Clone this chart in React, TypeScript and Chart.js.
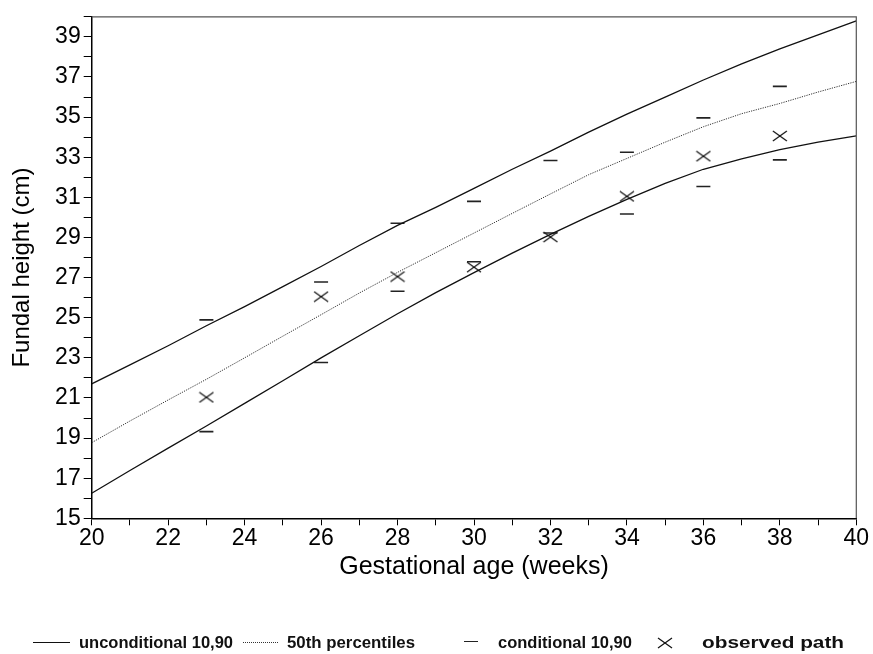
import React, { useEffect, useRef } from 'react';
import { Chart, registerables } from 'chart.js';

Chart.register(...registerables);

// ---- data ----
const weeks = [20, 21, 22, 23, 24, 25, 26, 27, 28, 29, 30, 31, 32, 33, 34, 35, 36, 37, 38, 39, 40];
const upper90 = [21.7, 22.65, 23.6, 24.6, 25.55, 26.55, 27.55, 28.6, 29.6, 30.5, 31.45, 32.4, 33.3, 34.25, 35.15, 36.0, 36.85, 37.65, 38.4, 39.1, 39.8];
const median50 = [18.77, 19.85, 20.9, 21.93, 23.0, 24.08, 25.15, 26.23, 27.26, 28.24, 29.22, 30.2, 31.17, 32.13, 32.94, 33.75, 34.52, 35.17, 35.68, 36.25, 36.78];
const lower10 = [16.25, 17.38, 18.5, 19.6, 20.73, 21.86, 23.0, 24.1, 25.2, 26.25, 27.25, 28.22, 29.15, 30.05, 30.9, 31.7, 32.4, 32.92, 33.38, 33.75, 34.06];

const visitWeeks = [23, 26, 28, 30, 32, 34, 36, 38];
const condUpper = [24.89, 26.78, 29.71, 30.8, 32.84, 33.25, 34.96, 36.53];
const condLower = [19.32, 22.77, 26.32, 27.79, 29.22, 30.17, 31.54, 32.87];
const observed = [21.03, 26.05, 27.05, 27.52, 29.02, 31.05, 33.05, 34.06];

const xTickLabels = [20, 22, 24, 26, 28, 30, 32, 34, 36, 38, 40];
const yTickLabels = [15, 17, 19, 21, 23, 25, 27, 29, 31, 33, 35, 37, 39];

const xTitle = 'Gestational age (weeks)';
const yTitle = 'Fundal height (cm)';
const legendLabels = ['unconditional 10,90', '50th percentiles', 'conditional 10,90', 'observed path'];

const FONT = '"Liberation Sans", Arial, Helvetica, sans-serif';

function makeCross(): HTMLCanvasElement {
  const c = document.createElement('canvas');
  c.width = 16;
  c.height = 12;
  const g = c.getContext('2d')!;
  g.strokeStyle = '#111';
  g.lineWidth = 1.2;
  g.beginPath();
  g.moveTo(1, 1);
  g.lineTo(15, 11);
  g.moveTo(1, 11);
  g.lineTo(15, 1);
  g.stroke();
  return c;
}

const framePlugin = {
  id: 'frame',
  afterDraw(chart: any) {
    const { ctx, chartArea } = chart;
    const { left, top, right, bottom } = chartArea;
    ctx.save();
    ctx.strokeStyle = '#555';
    ctx.lineWidth = 1.2;
    ctx.beginPath();
    ctx.moveTo(left, top);
    ctx.lineTo(right, top);
    ctx.lineTo(right, bottom);
    ctx.stroke();
    ctx.restore();
  },
};

function FitText({ left, width, text }: { left: number; width: number; text: string }) {
  const ref = useRef<HTMLSpanElement>(null);
  useEffect(() => {
    const el = ref.current;
    if (!el) return;
    el.style.transform = 'none';
    const w = el.getBoundingClientRect().width;
    if (w > 0) el.style.transform = `scaleX(${width / w})`;
  }, [width, text]);
  return (
    <span
      ref={ref}
      style={{
        position: 'absolute',
        left,
        top: 633,
        lineHeight: '20px',
        font: `bold 16.5px ${FONT}`,
        whiteSpace: 'nowrap',
        transformOrigin: 'left center',
        color: '#111',
      }}
    >
      {text}
    </span>
  );
}

export default function App() {
  const canvasRef = useRef<HTMLCanvasElement>(null);

  useEffect(() => {
    const canvas = canvasRef.current;
    if (!canvas) return;
    const cross = makeCross();
    const toPts = (xs: number[], ys: number[]) => xs.map((x, i) => ({ x, y: ys[i] }));

    const chart = new Chart(canvas, {
      type: 'scatter',
      data: {
        datasets: [
          {
            label: legendLabels[0],
            data: toPts(weeks, upper90),
            showLine: true,
            borderColor: '#111',
            borderWidth: 1.3,
            pointRadius: 0,
            tension: 0,
          },
          {
            label: legendLabels[1],
            data: toPts(weeks, median50),
            showLine: true,
            borderColor: '#333',
            borderWidth: 1,
            borderDash: [1.2, 1.2],
            pointRadius: 0,
            tension: 0,
          },
          {
            label: legendLabels[0],
            data: toPts(weeks, lower10),
            showLine: true,
            borderColor: '#111',
            borderWidth: 1.3,
            pointRadius: 0,
            tension: 0,
          },
          {
            label: legendLabels[2],
            data: toPts(visitWeeks, condUpper),
            showLine: false,
            pointStyle: 'line',
            pointRadius: 7,
            pointBorderWidth: 1.6,
            borderColor: '#222',
            backgroundColor: '#222',
          },
          {
            label: legendLabels[2],
            data: toPts(visitWeeks, condLower),
            showLine: false,
            pointStyle: 'line',
            pointRadius: 7,
            pointBorderWidth: 1.6,
            borderColor: '#222',
            backgroundColor: '#222',
          },
          {
            label: legendLabels[3],
            data: toPts(visitWeeks, observed),
            showLine: false,
            pointStyle: cross as any,
            pointRadius: 8,
          },
        ],
      },
      options: {
        animation: false,
        responsive: false,
        devicePixelRatio: 1,
        events: [],
        layout: { padding: { left: 0, right: 16.7, top: 6.9, bottom: 0 } },
        plugins: {
          legend: { display: false },
          tooltip: { enabled: false },
        },
        scales: {
          x: {
            type: 'linear',
            min: 20,
            max: 40,
            afterFit: (s: any) => {
              s.height = 654 - 518.3;
            },
            ticks: {
              stepSize: 1,
              autoSkip: false,
              maxRotation: 0,
              padding: 0,
              color: '#000',
              font: { family: FONT, size: 23 },
              callback: (v: any) => (xTickLabels.includes(Number(v)) ? String(v) : ''),
            },
            grid: { drawOnChartArea: false, drawTicks: true, tickLength: 7, color: '#000', lineWidth: 1 },
            border: { display: true, color: '#000', width: 1.5 },
            title: {
              display: true,
              text: xTitle,
              color: '#000',
              font: { family: FONT, size: 25 },
              padding: { top: 0, bottom: 72 },
            },
          },
          y: {
            type: 'linear',
            min: 15,
            max: 40,
            afterFit: (s: any) => {
              s.width = 91.7;
            },
            ticks: {
              stepSize: 1,
              autoSkip: false,
              padding: 3,
              color: '#000',
              font: { family: FONT, size: 23 },
              callback: (v: any) => (yTickLabels.includes(Number(v)) ? String(v) : ''),
            },
            grid: { drawOnChartArea: false, drawTicks: true, tickLength: 8, color: '#000', lineWidth: 1 },
            border: { display: true, color: '#000', width: 1.5 },
            title: {
              display: true,
              text: yTitle,
              color: '#000',
              font: { family: FONT, size: 24 },
              padding: { top: 8, bottom: 0 },
            },
          },
        },
      },
      plugins: [framePlugin],
    });
    return () => chart.destroy();
  }, []);

  return (
    <div style={{ position: 'absolute', left: 0, top: 0, width: 873, height: 654, background: '#fff' }}>
      <canvas ref={canvasRef} width={873} height={654} style={{ display: 'block' }} />
      {/* legend */}
      <div style={{ position: 'absolute', left: 33, top: 642, width: 37, borderTop: '1.5px solid #111' }} />
      <FitText left={79} width={154} text={legendLabels[0]} />
      <div style={{ position: 'absolute', left: 243, top: 642, width: 35, borderTop: '1px dotted #333' }} />
      <FitText left={287} width={128} text={legendLabels[1]} />
      <div style={{ position: 'absolute', left: 464, top: 641, width: 14, borderTop: '1.5px solid #222' }} />
      <FitText left={498} width={134} text={legendLabels[2]} />
      <svg style={{ position: 'absolute', left: 657, top: 637 }} width={16} height={12}>
        <line x1={1} y1={1} x2={15} y2={11} stroke="#111" strokeWidth={1.2} />
        <line x1={1} y1={11} x2={15} y2={1} stroke="#111" strokeWidth={1.2} />
      </svg>
      <FitText left={702} width={142} text={legendLabels[3]} />
    </div>
  );
}
